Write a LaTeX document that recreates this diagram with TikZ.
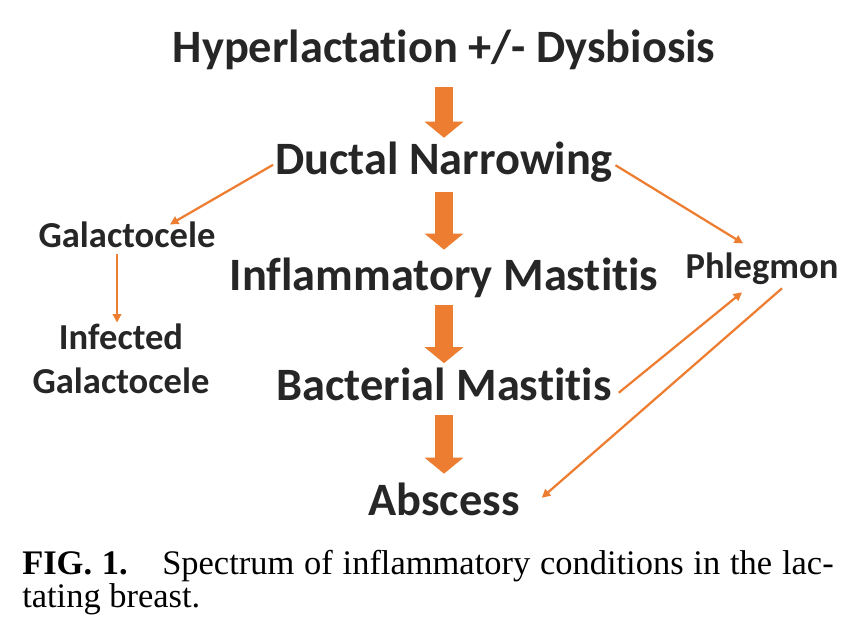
\documentclass[tikz,border=0pt]{standalone}
\usepackage{fontspec}
\setmainfont{Liberation Serif}
\newfontfamily\calibri[Ligatures=NoCommon]{Carlito}
\usetikzlibrary{arrows.meta}
\definecolor{flow}{HTML}{ED7D31}
\definecolor{ink}{HTML}{262626}

\begin{document}
\begin{tikzpicture}[
  x=0.025cm, y=-0.025cm,
  stage/.style={font=\calibri\bfseries\fontsize{33}{36}\selectfont, text=ink, inner sep=0pt, anchor=base, text height=23pt, text depth=7pt},
  side/.style={font=\calibri\bfseries\fontsize{26}{31.6}\selectfont, text=ink, inner sep=0pt, text height=18pt, text depth=5pt, align=center},
  bigarr/.style={draw=flow, line width=12.8pt, -{Triangle[length=11.4pt, width=27.7pt, line width=0pt]}},
  arr/.style={draw=flow, line width=1.6pt, -{Triangle[length=6pt, width=6pt]}}
]
  \useasboundingbox (0,0) rectangle (859,630);

  % Nodes
  \node[stage] (hyper) at (444,63) {Hyperlactation +/- Dysbiosis};
  \node[stage] (ductal) at (444,175) {Ductal Narrowing};
  \node[stage] (inflam) at (444,290) {Inflammatory Mastitis};
  \node[stage] (bact) at (444,400) {Bacterial Mastitis};
  \node[stage] (absc) at (444,515) {Abscess};

  \node[side, anchor=base] (galacto) at (127,247) {Galactocele};
  \node[side, anchor=base] (phleg) at (762,278) {Phlegmon};
  \node[side, text height=, text depth=] (infected) at (121,359) {Infected\\Galactocele};

  % Main flow
  \draw[bigarr, shorten <=10pt, shorten >=3.3pt] (hyper) -- (ductal);
  \draw[bigarr, shorten <=5pt, shorten >=5.5pt] (ductal) -- (inflam);
  \draw[bigarr, shorten <=3.7pt, shorten >=3pt] (inflam) -- (bact);
  \draw[bigarr, shorten <=3.7pt, shorten >=6.2pt] (bact) -- (absc);

  % Side branches
  \draw[arr, shorten <=1.5pt] (ductal.west) -- ([shift={(43,3)}]galacto.north);
  \draw[arr] ([shift={(-10,0)}]galacto.south) -- ([shift={(-4,-1)}]infected.north);
  \draw[arr, shorten <=2pt] (ductal.east) -- ([shift={(-19,-9)}]phleg.north);
  \draw[arr] ([shift={(7,4)}]bact.east) -- ([shift={(-20,7)}]phleg.south);
  \draw[arr] ([shift={(20,3)}]phleg.south) -- ([shift={(22,-6)}]absc.east);

  % Caption
  \node[anchor=base west, inner sep=0pt, align=left, font=\fontsize{24.5}{22}\selectfont] (caption) at (22,607)
    {\makebox[577pt][s]{\textbf{FIG. 1.}\quad Spectrum of inflammatory conditions in the lac-}\\tating breast.};
\end{tikzpicture}
\end{document}
